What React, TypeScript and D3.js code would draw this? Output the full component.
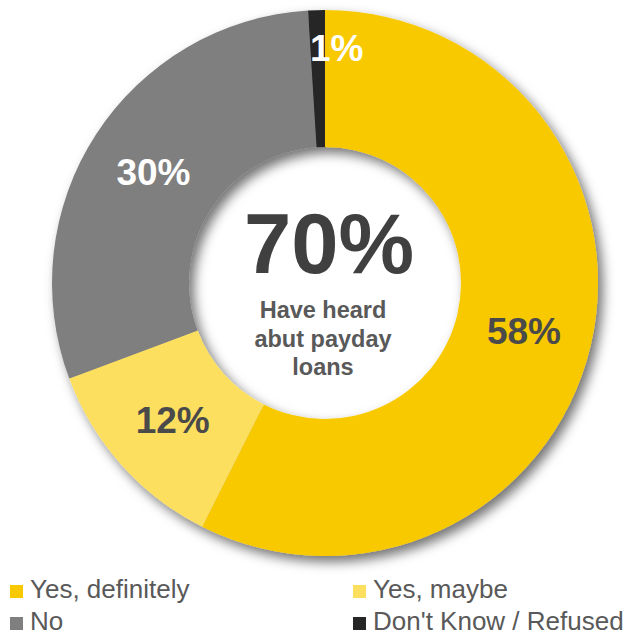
import React from "react";
import * as d3 from "d3";

const categories = ["Yes, definitely", "Yes, maybe", "No", "Don't Know / Refused"];
const values = [58, 12, 30, 1];
const labels = ["58%", "12%", "30%", "1%"];
const sliceColors = ["#F9C900", "#FDDF5F", "#7F7F7F", "#262626"];
const labelColors = ["#4A4A4A", "#4A4A4A", "#FFFFFF", "#FFFFFF"];
const labelNudges: [number, number][] = [[0, 0], [0, 0], [0, 0], [18, -31]];
const centerValue = "70%";
const centerLines = ["Have heard", "abut payday", "loans"];

const W = 630;
const H = 635;
const cx = 325;
const cy = 283;
const outerR = 273;
const innerR = 136;

export default function App() {
  const pie = d3.pie<number>().sort(null).value((d) => d);
  const arcs = pie(values);
  const arc = d3.arc<d3.PieArcDatum<number>>().innerRadius(innerR).outerRadius(outerR);
  const labelArc = d3
    .arc<d3.PieArcDatum<number>>()
    .innerRadius((innerR + outerR) / 2)
    .outerRadius((innerR + outerR) / 2);

  const legendX = d3.scaleOrdinal<number, number>().domain([0, 1]).range([10, 353]);
  const legendY = d3.scaleOrdinal<number, number>().domain([0, 1]).range([598, 630]);

  return (
    <svg
      width={W}
      height={H}
      style={{ position: "absolute", left: 0, top: 0, background: "#fff" }}
      fontFamily="'Liberation Sans', Arial, sans-serif"
    >
      <defs>
        <filter id="ds" x="-20%" y="-20%" width="140%" height="140%">
          <feDropShadow dx="5" dy="6" stdDeviation="6" floodColor="#000" floodOpacity="0.55" />
        </filter>
      </defs>
      <g transform={`translate(${cx},${cy})`}>
        <g filter="url(#ds)">
          {arcs.map((a, i) => (
            <path key={i} d={arc(a) || ""} fill={sliceColors[i]} />
          ))}
        </g>
        {arcs.map((a, i) => {
          const [x, y] = labelArc.centroid(a);
          return (
            <text
              key={i}
              x={x + labelNudges[i][0]}
              y={y + labelNudges[i][1]}
              dy="0.36em"
              textAnchor="middle"
              fontWeight="bold"
              fontSize={37}
              fill={labelColors[i]}
            >
              {labels[i]}
            </text>
          );
        })}
        <text x={4} y={-10} textAnchor="middle" fontWeight="bold" fontSize={85} fill="#404040">
          {centerValue}
        </text>
        {centerLines.map((t, i) => (
          <text
            key={t}
            x={-2}
            y={35 + i * 28.5}
            textAnchor="middle"
            fontWeight="bold"
            fontSize={23.5}
            fill="#595959"
          >
            {t}
          </text>
        ))}
      </g>
      {categories.map((c, i) => {
        const col = i % 2;
        const row = Math.floor(i / 2);
        const x = legendX(col);
        const y = legendY(row);
        return (
          <g key={c}>
            <rect x={x} y={y - 13} width={13} height={13} fill={sliceColors[i]} />
            <text x={x + 20} y={y} fontSize={26} fill="#595959">
              {c}
            </text>
          </g>
        );
      })}
    </svg>
  );
}
